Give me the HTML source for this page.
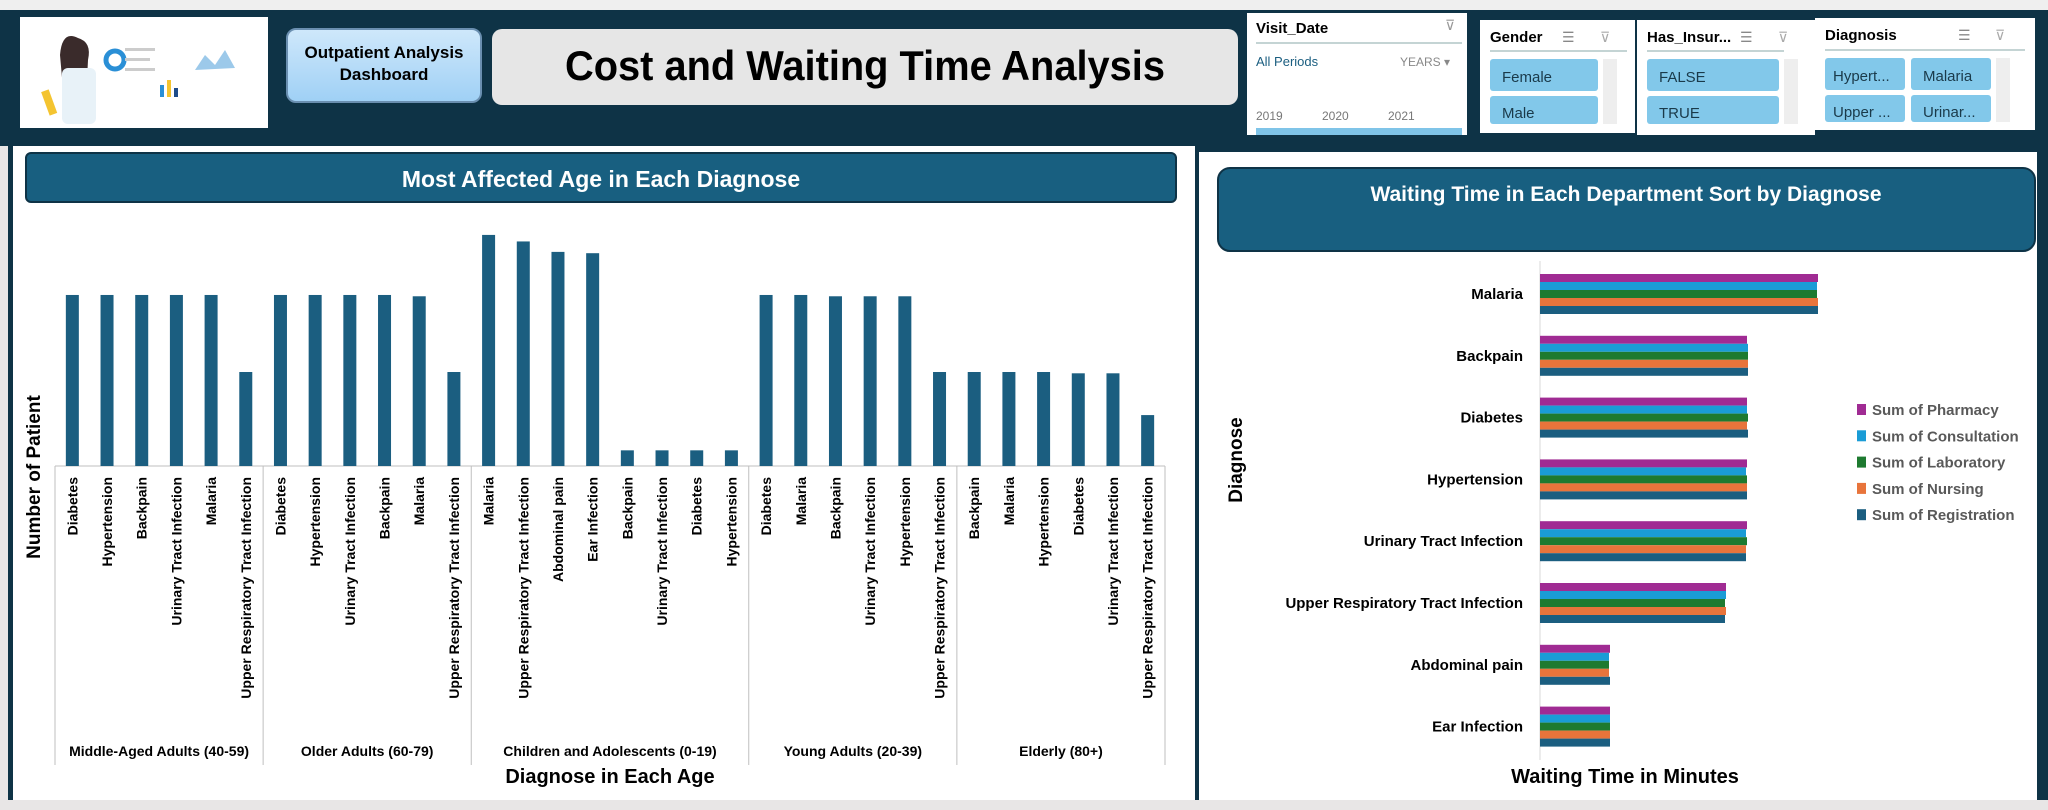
<!DOCTYPE html>
<html><head><meta charset="utf-8"><style>
html,body{margin:0;padding:0;width:2048px;height:810px;overflow:hidden;background:#e8e6e6;font-family:"Liberation Sans",sans-serif}
svg{display:block}
</style></head><body>
<svg id="s" width="2048" height="810" xmlns="http://www.w3.org/2000/svg" font-family="Liberation Sans, sans-serif">
<rect x="0" y="0" width="2048" height="810" fill="#e8e6e6"/>
<rect x="0" y="0" width="2048" height="10" fill="#efefef"/>
<rect x="0" y="10" width="2048" height="136" fill="#0e3346"/>
<rect x="8" y="146" width="2040" height="654" fill="#0e3346"/>
<!-- header -->
<g>
<rect x="20" y="17" width="248" height="111" fill="#fff"/>
<circle cx="75" cy="55" r="12" fill="#f3c7a5"/><path d="M60 55 Q62 30 78 38 Q92 42 88 60 L86 100 L64 100Z" fill="#3a2b2b"/>
<rect x="62" y="68" width="34" height="56" rx="6" fill="#e8f2f8"/><rect x="45" y="90" width="8" height="25" fill="#f4c430" transform="rotate(-20 49 102)"/>
<circle cx="115" cy="60" r="9" fill="none" stroke="#2a8fd6" stroke-width="5"/><rect x="160" y="85" width="4" height="12" fill="#2a8fd6"/><rect x="167" y="80" width="4" height="17" fill="#f4c430"/><rect x="174" y="88" width="4" height="9" fill="#1e4c8a"/>
<path d="M195 70 L205 55 L215 65 L225 50 L235 68 Z" fill="#9cc9ea"/><rect x="125" y="48" width="30" height="3" fill="#ccc"/><rect x="125" y="58" width="25" height="3" fill="#ccc"/><rect x="125" y="68" width="30" height="3" fill="#ccc"/>
</g>
<g>
<defs><linearGradient id="bg1" x1="0" y1="0" x2="0" y2="1"><stop offset="0" stop-color="#cfe8fb"/><stop offset="1" stop-color="#9fd0f5"/></linearGradient></defs>
<rect x="287" y="29" width="194" height="73" rx="9" fill="url(#bg1)" stroke="#6a8fb0" stroke-width="2"/>
<text x="384" y="58" font-size="17" font-weight="bold" text-anchor="middle" fill="#000">Outpatient Analysis</text>
<text x="384" y="80" font-size="17" font-weight="bold" text-anchor="middle" fill="#000">Dashboard</text>
</g>
<g>
<rect x="492" y="29" width="746" height="76" rx="10" fill="#e6e6e6"/>
<text x="865" y="80" font-size="42" font-weight="bold" text-anchor="middle" fill="#000" textLength="600" lengthAdjust="spacingAndGlyphs">Cost and Waiting Time Analysis</text>
</g>
<!-- slicers -->
<g>
<rect x="1247" y="13" width="220" height="122" fill="#fff"/>
<text x="1256" y="33" font-size="15" font-weight="bold">Visit_Date</text>
<line x1="1256" y1="43" x2="1462" y2="43" stroke="#8aa" stroke-width="1"/>
<text x="1256" y="66" font-size="13" fill="#1b5e80">All Periods</text>
<text x="1400" y="66" font-size="12" fill="#888">YEARS ▾</text>
<text x="1256" y="120" font-size="12" fill="#777">2019</text><text x="1322" y="120" font-size="12" fill="#777">2020</text><text x="1388" y="120" font-size="12" fill="#777">2021</text>
<rect x="1256" y="128" width="206" height="7" fill="#7fc4e8"/>
<text x="1445" y="30" font-size="14" fill="#999">⊽</text>
</g>
<g>
<rect x="1480" y="20" width="155" height="113" fill="#fff"/>
<text x="1490" y="42" font-size="15" font-weight="bold">Gender</text>
<text x="1562" y="42" font-size="14" fill="#888">☰</text><text x="1600" y="42" font-size="14" fill="#aaa">⊽</text>
<line x1="1490" y1="51" x2="1627" y2="51" stroke="#8aa"/>
<rect x="1490" y="59" width="108" height="32" rx="3" fill="#82c8ea"/>
<text x="1502" y="82" font-size="15" fill="#1a3a4a">Female</text>
<rect x="1490" y="96" width="108" height="28" rx="3" fill="#82c8ea"/>
<text x="1502" y="118" font-size="15" fill="#1a3a4a">Male</text>
<rect x="1603" y="59" width="14" height="65" fill="#eee"/>
</g>
<g>
<rect x="1637" y="20" width="178" height="115" fill="#fff"/>
<text x="1647" y="42" font-size="15" font-weight="bold">Has_Insur...</text>
<text x="1740" y="42" font-size="14" fill="#888">☰</text><text x="1778" y="42" font-size="14" fill="#aaa">⊽</text>
<line x1="1647" y1="51" x2="1784" y2="51" stroke="#8aa"/>
<rect x="1647" y="59" width="132" height="32" rx="3" fill="#82c8ea"/>
<text x="1659" y="82" font-size="15" fill="#1a3a4a">FALSE</text>
<rect x="1647" y="96" width="132" height="28" rx="3" fill="#82c8ea"/>
<text x="1659" y="118" font-size="15" fill="#1a3a4a">TRUE</text>
<rect x="1784" y="59" width="14" height="65" fill="#eee"/>
</g>
<g>
<rect x="1815" y="18" width="220" height="112" fill="#fff"/>
<text x="1825" y="40" font-size="15" font-weight="bold">Diagnosis</text>
<text x="1958" y="40" font-size="14" fill="#888">☰</text><text x="1995" y="40" font-size="14" fill="#aaa">⊽</text>
<line x1="1825" y1="50" x2="2025" y2="50" stroke="#8aa"/>
<rect x="1825" y="58" width="80" height="32" rx="3" fill="#82c8ea"/><text x="1833" y="81" font-size="15" fill="#1a3a4a">Hypert...</text>
<rect x="1911" y="58" width="80" height="32" rx="3" fill="#82c8ea"/><text x="1923" y="81" font-size="15" fill="#1a3a4a">Malaria</text>
<rect x="1825" y="95" width="80" height="27" rx="3" fill="#82c8ea"/><text x="1833" y="117" font-size="15" fill="#1a3a4a">Upper ...</text>
<rect x="1911" y="95" width="80" height="27" rx="3" fill="#82c8ea"/><text x="1923" y="117" font-size="15" fill="#1a3a4a">Urinar...</text>
<rect x="1996" y="58" width="14" height="64" fill="#eee"/>
</g>
<!-- panels -->
<rect x="13" y="146" width="1182" height="654" fill="#fff"/>
<rect x="1199" y="152" width="838" height="648" fill="#fff"/>
<g>
<rect x="26" y="153" width="1150" height="49" rx="5" fill="#185f80" stroke="#0e3346" stroke-width="2"/>
<text x="601" y="187" font-size="23" font-weight="bold" fill="#fff" text-anchor="middle">Most Affected Age in Each Diagnose</text>
</g>
<g>
<rect x="1218" y="168" width="817" height="83" rx="12" fill="#185f80" stroke="#0e3346" stroke-width="2"/>
<text x="1626" y="201" font-size="21" font-weight="bold" fill="#fff" text-anchor="middle">Waiting Time in Each Department Sort by Diagnose</text>
</g>
<g id="colchart"></g>
<g id="barchart"></g>
<text x="40" y="477" font-size="19" font-weight="bold" text-anchor="middle" transform="rotate(-90 40 477)">Number of Patient</text>
<text x="610" y="783" font-size="20" font-weight="bold" text-anchor="middle">Diagnose in Each Age</text>
<text x="1242" y="460" font-size="19" font-weight="bold" text-anchor="middle" transform="rotate(-90 1242 460)">Diagnose</text>
<text x="1625" y="783" font-size="20" font-weight="bold" text-anchor="middle">Waiting Time in Minutes</text>
</svg>
<script>
const groups = ["Middle-Aged Adults (40-59)","Older Adults (60-79)","Children and Adolescents (0-19)","Young Adults (20-39)","Elderly (80+)"];
const groupDiagnoses = [
 ["Diabetes","Hypertension","Backpain","Urinary Tract Infection","Malaria","Upper Respiratory Tract Infection"],
 ["Diabetes","Hypertension","Urinary Tract Infection","Backpain","Malaria","Upper Respiratory Tract Infection"],
 ["Malaria","Upper Respiratory Tract Infection","Abdominal pain","Ear Infection","Backpain","Urinary Tract Infection","Diabetes","Hypertension"],
 ["Diabetes","Malaria","Backpain","Urinary Tract Infection","Hypertension","Upper Respiratory Tract Infection"],
 ["Backpain","Malaria","Hypertension","Diabetes","Urinary Tract Infection","Upper Respiratory Tract Infection"]
];
const groupValues = [
 [131,131,131,131,131,72],
 [131,131,131,131,130,72],
 [177,172,164,163,12,12,12,12],
 [131,131,130,130,130,72],
 [72,72,72,71,71,39]
];
const diagCategories = ["Malaria","Backpain","Diabetes","Hypertension","Urinary Tract Infection","Upper Respiratory Tract Infection","Abdominal pain","Ear Infection"];
const pharmacy =     [278,207,207,207,207,186,70,70];
const consultation = [277,208,207,206,206,186,69,70];
const laboratory =   [277,208,208,207,207,185,69,70];
const nursing =      [278,208,207,207,206,186,69,70];
const registration = [278,208,208,207,206,185,70,70];
const seriesNames = ["Sum of Pharmacy","Sum of Consultation","Sum of Laboratory","Sum of Nursing","Sum of Registration"];

const NS="http://www.w3.org/2000/svg";
function mk(tag,attrs,parent){const e=document.createElementNS(NS,tag);for(const k in attrs)e.setAttribute(k,attrs[k]);parent.appendChild(e);return e;}

// column chart
const cc=document.getElementById('colchart');
const plotL=55, plotR=1165, base=466, yMax=180, yPix=235;
const nCols=groupValues.reduce((a,g)=>a+g.length,0);
const step=(plotR-plotL)/nCols;
const ys=v=>base - v/yMax*yPix;
let idx=0;
mk('line',{x1:plotL,y1:base,x2:plotR,y2:base,stroke:'#bfbfbf'},cc);
groups.forEach((g,gi)=>{
  const startIdx=idx;
  mk('line',{x1:plotL+startIdx*step,y1:base,x2:plotL+startIdx*step,y2:765,stroke:'#bfbfbf'},cc);
  groupValues[gi].forEach((v,i)=>{
    const cx=plotL+(idx+0.5)*step;
    const r=mk('rect',{x:cx-6.5,y:ys(v),width:13,height:base-ys(v),fill:'#1b5e80'},cc);
    
    
    const t=mk('text',{x:0,y:0,'font-size':14,'font-weight':'bold','text-anchor':'end',transform:`translate(${cx+5},477) rotate(-90)`},cc);
    t.textContent=groupDiagnoses[gi][i];
    
    
    idx++;
  });
  const gl=mk('text',{x:plotL+(startIdx+idx)/2*step,y:756,'font-size':14,'font-weight':'bold','text-anchor':'middle'},cc);
  gl.textContent=g;
  
  
});
mk('line',{x1:plotR,y1:base,x2:plotR,y2:765,stroke:'#bfbfbf'},cc);

// bar chart
const bc=document.getElementById('barchart');
const axX=1540, firstC=294, catStep=61.8, bh=8;
const xs=v=>axX+v;
const colors=["#a02b93","#1a9cd6","#1e7a30","#e8743b","#1b5e80"];
const series=[pharmacy,consultation,laboratory,nursing,registration];
mk('line',{x1:axX,y1:261,x2:axX,y2:760,stroke:'#d9d9d9'},bc);
diagCategories.forEach((c,ci)=>{
  const cy=firstC+ci*catStep;
  series.forEach((s,si)=>{
    const r=mk('rect',{x:axX,y:cy-20+si*bh,width:xs(s[ci])-axX,height:bh,fill:colors[si]},bc);
    
    
  });
  const t=mk('text',{x:1523,y:cy+5,'font-size':15,'font-weight':'bold','text-anchor':'end'},bc);
  t.textContent=c;
  
  
});
seriesNames.forEach((n,i)=>{
  const y=411+i*26.3;
  const sq=mk('rect',{x:1857,y:y-7,width:9,height:11,fill:colors[i]},bc);
  
  
  const t=mk('text',{x:1872,y:y+4,'font-size':15,'font-weight':'bold',fill:'#595959'},bc);
  t.textContent=n;
  
  
});
</script>
</body></html>
